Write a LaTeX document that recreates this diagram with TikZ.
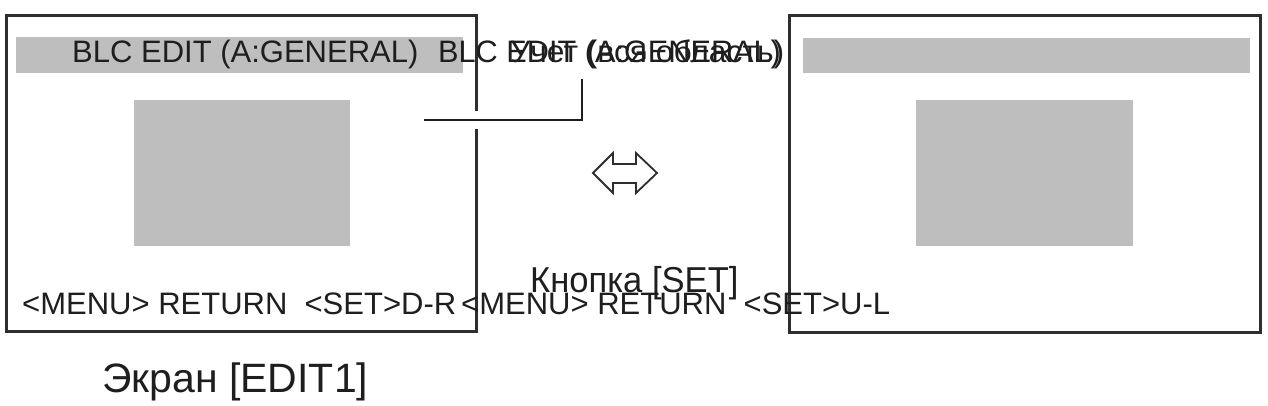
\documentclass[tikz,border=0pt]{standalone}
\usepackage{fontspec}
\setmainfont{Liberation Sans}
\definecolor{framec}{HTML}{2E2E2E}
\definecolor{greyfill}{HTML}{BEBEBE}
\definecolor{inkc}{HTML}{1E1E1E}
\begin{document}
\begin{tikzpicture}[x=1pt,y=-1pt,
  screen/.style={draw=framec, line width=3pt, fill=white, inner sep=0pt},
  greybox/.style={fill=greyfill, draw=none, inner sep=0pt},
  lbl/.style={inner sep=0pt, anchor=base west, text=inkc},
  leader/.style={draw=inkc, line width=2.5pt},
  dblarrow/.style={draw=framec, line width=1.8pt, fill=white, line join=miter}]
\useasboundingbox (0,0) rectangle (1268,406);
\fill[white] (0,0) rectangle (1268,406);
% screens
\node[screen, minimum width=470pt, minimum height=315pt] (lscr) at (241,173.5) {};
\node[screen, minimum width=471pt, minimum height=316pt] (rscr) at (1024.5,174) {};
% grey areas
\node[greybox, minimum width=447pt, minimum height=36pt] (lbar) at (239.5,55) {};
\node[greybox, minimum width=216pt, minimum height=146pt] (lwin) at (242,173) {};
\node[greybox, minimum width=447pt, minimum height=35pt] (rbar) at (1026.5,55.5) {};
\node[greybox, minimum width=217pt, minimum height=146pt] (rwin) at (1024.5,173) {};
% texts
\node[lbl] (t1) at (72,63) {\fontsize{31}{36}\selectfont BLC EDIT (A:GENERAL)};
\node[lbl] (t2) at (438,63) {\fontsize{31}{36}\selectfont\scalebox{0.99}[1]{BLC EDIT (A:GENERAL)}};
\node[lbl] (t3) at (510,63) {\fontsize{31}{36}\selectfont\scalebox{1.025}[1]{Учет (вся область)}};
\node[lbl] (b1) at (22,314) {\fontsize{31}{36}\selectfont <MENU> RETURN\ \ <SET>D-R};
\node[lbl] (b2) at (461,314) {\fontsize{31}{36}\selectfont <MENU> RETURN\ \ <SET>U-L};
\node[lbl] (kn) at (530,292) {\fontsize{36}{40}\selectfont\scalebox{0.96}[1]{Кнопка [SET]}};
\node[lbl] (ek) at (102,392) {\fontsize{41}{46}\selectfont Экран [EDIT1]};
% leader from label to screen
\coordinate (ltop) at (582,79);
\coordinate (lcorner) at (582,120);
\coordinate (lend) at (424,120);
\draw[white, line width=18pt] (472,120) -- (480,120);
\draw[leader] (ltop) -- (lcorner) -- (lend);
% double arrow
\draw[dblarrow] (593,173) -- (613,153) -- (613,164) -- (636,164) -- (636,153) -- (657,173)
  -- (636,193) -- (636,183) -- (613,183) -- (613,193) -- cycle;
\end{tikzpicture}
\end{document}
